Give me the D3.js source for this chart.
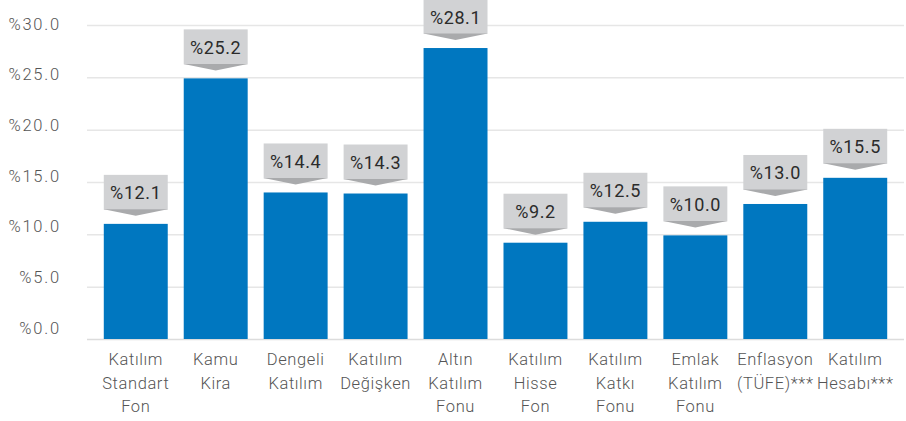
<!DOCTYPE html>
<html>
<head>
<meta charset="utf-8">
<script src="https://cdn.jsdelivr.net/npm/d3@7"></script>
<style>
  body { margin: 0; background: #fff; }
  svg { display: block; font-family: Roboto, 'Noto Sans', sans-serif; font-weight: 300; }
</style>
</head>
<body>
<div class="viz"></div>
<script>
// category names, one word per line below each bar
const categories = ['Katılım Standart Fon', 'Kamu Kira', 'Dengeli Katılım', 'Katılım Değişken', 'Altın Katılım Fonu', 'Katılım Hisse Fon', 'Katılım Katkı Fonu', 'Emlak Katılım Fonu', 'Enflasyon (TÜFE)***', 'Katılım Hesabı***'];
// bar heights as drawn
const values = [11.0, 24.9, 14.0, 13.9, 27.8, 9.2, 11.2, 9.9, 12.9, 15.4];
// text written in the grey callouts
const labels = ['%12.1', '%25.2', '%14.4', '%14.3', '%28.1', '%9.2', '%12.5', '%10.0', '%13.0', '%15.5'];
const ticks = [0, 5, 10, 15, 20, 25, 30];

const width = 906;
const height = 421;

const svg = d3.select('.viz')
  .append('svg')
  .attr('width', width)
  .attr('height', height);

const xScale = d3.scaleBand()
  .domain(categories)
  .range([87, 904])
  .paddingInner(0.2)
  .paddingOuter(0.21);

const yScale = d3.scaleLinear()
  .domain([0, 30])
  .range([339, 25]);

// tick labels sit on a slightly tighter scale than the grid lines
const yLabelScale = d3.scaleLinear()
  .domain([0, 30])
  .range([328, 24]);

// grid lines
const grid = svg.append('g')
  .attr('class', 'grid')
  .attr('transform', 'translate(87 0)')
  .call(d3.axisLeft(yScale).tickValues(ticks).tickSize(-(904 - 87)).tickFormat(''));
grid.select('.domain').remove();
grid.selectAll('line')
  .attr('stroke', '#e6e6e6')
  .attr('stroke-width', 1.5);
grid.selectAll('.tick')
  .filter(d => d === 0)
  .select('line')
  .attr('stroke', '#dcdcdc');

// y labels
const yAxis = svg.append('g')
  .attr('class', 'y-axis')
  .attr('transform', 'translate(61 0)')
  .call(d3.axisLeft(yLabelScale).tickValues(ticks).tickSize(0).tickPadding(0).tickFormat(d => `%${d.toFixed(1)}`));
yAxis.select('.domain').remove();
yAxis.selectAll('text')
  .attr('font-size', 16.5)
  .attr('font-family', 'Roboto, sans-serif')
  .attr('letter-spacing', 1.8)
  .attr('fill', '#555');

// bars
svg.append('g')
  .selectAll('rect')
  .data(values)
  .join('rect')
  .attr('x', (d, i) => xScale(categories[i]))
  .attr('y', d => yScale(d))
  .attr('width', xScale.bandwidth())
  .attr('height', d => yScale(0) - yScale(d))
  .attr('fill', '#0077c0');

// callouts above the bars
const callouts = svg.append('g')
  .selectAll('g')
  .data(values)
  .join('g')
  .attr('transform', (d, i) => `translate(${xScale(categories[i])} ${yScale(d) - 8})`);

const bw = xScale.bandwidth();
callouts.append('rect')
  .attr('x', 0)
  .attr('y', -41)
  .attr('width', bw)
  .attr('height', 35)
  .attr('fill', '#d1d2d4');

callouts.append('path')
  .attr('d', `M0 -6.5 L${bw} -6.5 L${bw / 2} 0 Z`)
  .attr('fill', '#a9aaac');

callouts.append('text')
  .attr('x', bw / 2)
  .attr('y', -23)
  .attr('text-anchor', 'middle')
  .attr('dominant-baseline', 'central')
  .attr('font-size', 18)
  .attr('font-weight', 400)
  .attr('letter-spacing', 0.6)
  .attr('fill', '#2b2b2b')
  .text((d, i) => labels[i]);

// category labels
const xLabels = svg.append('g')
  .selectAll('text')
  .data(categories)
  .join('text')
  .attr('text-anchor', 'middle')
  .attr('font-size', 16.5)
  .attr('letter-spacing', 0.6)
  .attr('fill', '#555')
  .attr('transform', d => `translate(${xScale(d) + bw / 2} 365)`);

xLabels.selectAll('tspan')
  .data(d => d.split(' '))
  .join('tspan')
  .attr('x', 0)
  .attr('y', (d, i) => i * 23.5)
  .text(d => d);
</script>
</body>
</html>
